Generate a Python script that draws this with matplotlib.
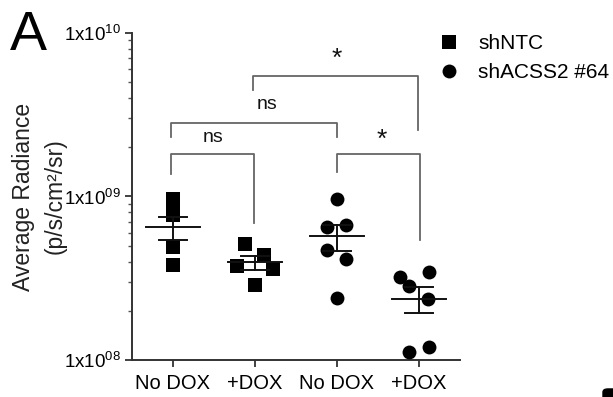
import matplotlib
matplotlib.use("Agg")
import matplotlib.pyplot as plt
from matplotlib.lines import Line2D
from matplotlib.patches import FancyBboxPatch
import numpy as np

plt.rcParams['font.family'] = ['Liberation Sans', 'DejaVu Sans']
plt.rcParams['mathtext.fontset'] = 'custom'
plt.rcParams['mathtext.rm'] = 'Liberation Sans'

# groups along the x axis
groups = ["No DOX", "+DOX", "No DOX", "+DOX"]
series = ["shNTC", "shACSS2 #64"]

# radiance values per group (p/s/cm2/sr)
ntc_nodox = [9.7e8, 8.7e8, 7.7e8, 4.9e8, 3.8e8]
ntc_dox = [5.13e8, 4.36e8, 3.74e8, 3.60e8, 2.86e8]
acss_nodox = [9.72e8, 6.48e8, 6.73e8, 4.69e8, 4.17e8, 2.41e8]
acss_dox = [3.22e8, 3.45e8, 2.82e8, 2.36e8, 1.12e8, 1.20e8]

# horizontal spread of points within a group
spread_ntc_nodox = [0, 0, 0, 0, 0]
spread_ntc_dox = [-0.12, 0.11, -0.22, 0.22, 0]
spread_acss_nodox = [0, -0.12, 0.11, -0.12, 0.11, 0]
spread_acss_dox = [-0.23, 0.12, -0.12, 0.11, -0.12, 0.12]

# mean and sem
means = [6.48e8, 3.95e8, 5.71e8, 2.36e8]
err_hi = [7.54e8, 4.30e8, 6.73e8, 2.78e8]
err_lo = [5.39e8, 3.56e8, 4.67e8, 1.95e8]

fig = plt.figure(figsize=(6.13, 3.97), dpi=100)
ax = fig.add_axes([0.2153, 0.0932, 0.535, 0.8237])

ink = '#111111'
pos = np.arange(len(groups))
sets = [(ntc_nodox, spread_ntc_nodox, 's'), (ntc_dox, spread_ntc_dox, 's'),
        (acss_nodox, spread_acss_nodox, 'o'), (acss_dox, spread_acss_dox, 'o')]
for i, (vals, sp, mk) in enumerate(sets):
    ax.plot(pos[i] + np.array(sp), vals, mk, color='black', ms=10, mew=0, zorder=3)

# mean line and sem bars
for i in range(len(groups)):
    ax.plot([pos[i] - 0.33, pos[i] + 0.33], [means[i], means[i]], color=ink, lw=1.4, zorder=4)
    ax.plot([pos[i], pos[i]], [err_lo[i], err_hi[i]], color=ink, lw=1.4, zorder=4)
    for v in (err_lo[i], err_hi[i]):
        ax.plot([pos[i] - 0.17, pos[i] + 0.17], [v, v], color=ink, lw=1.4, zorder=4)

# significance brackets: x1, x2, bar, left leg end, right leg end, label, label x, label y
brackets = [
    (-0.02, 0.99, 1.81e9, 1.37e9, 6.88e8, 'ns', 0.49, 2.28e9),
    (-0.02, 2.0, 2.83e9, 2.30e9, 2.30e9, 'ns', 1.15, 3.63e9),
    (0.97, 2.99, 5.46e9, 4.48e9, 2.55e9, '*', 2.0, 6.9e9),
    (2.0, 3.01, 1.81e9, 1.42e9, 5.42e8, '*', 2.55, 2.22e9),
]
for x1, x2, yb, yl, yr, lab, tx, ty in brackets:
    ax.plot([x1, x1, x2, x2], [yl, yb, yb, yr], color='#666666', lw=1.3, zorder=2)
    fs = 14 if lab == 'ns' else 19
    ax.text(tx, ty, lab, ha='center', va='center', fontsize=fs, color='#111111')

ax.set_yscale('log')
ax.set_ylim(1e8, 1e10)
ax.set_xlim(-0.5, 3.5)
ax.set_yticks([1e8, 1e9, 1e10])
ax.set_yticklabels([r'1x10$^{08}$', r'1x10$^{09}$', r'1x10$^{10}$'], fontsize=13.5)
ax.set_xticks(pos)
ax.set_xticklabels(groups, fontsize=14.5)
ax.tick_params(axis='both', which='major', length=5, width=1.3, color='#333333', pad=3)
ax.tick_params(axis='y', which='minor', length=3, width=1.0, color='#555555')
ax.tick_params(axis='x', pad=5)
for s in ['top', 'right']:
    ax.spines[s].set_visible(False)
for s in ['left', 'bottom']:
    ax.spines[s].set_linewidth(1.4)
    ax.spines[s].set_color('#333333')

ax.set_ylabel('Average Radiance\n(p/s/cm²/sr)', fontsize=16.5, linespacing=1.45, color='#222222')
ax.yaxis.set_label_coords(-0.2, 0.5)

handles = [Line2D([], [], marker='s', ls='none', color='black', ms=10, mew=0),
           Line2D([], [], marker='o', ls='none', color='black', ms=10, mew=0)]
fig.legend(handles, series, loc='upper left', bbox_to_anchor=(438.6 / 613, 1 - 34 / 397),
           frameon=False, fontsize=15, handlelength=1.0, handletextpad=0.9,
           labelspacing=0.5, borderpad=0, borderaxespad=0)

fig.text(0.016, 0.975, 'A', fontsize=40, va='top', ha='left')
fig.add_artist(FancyBboxPatch((603 / 613, -0.01), 0.05, 12 / 397,
                              boxstyle='round,pad=0,rounding_size=0.008',
                              transform=fig.transFigure, color='black', clip_on=False))

fig.savefig('out.png', dpi=100)
